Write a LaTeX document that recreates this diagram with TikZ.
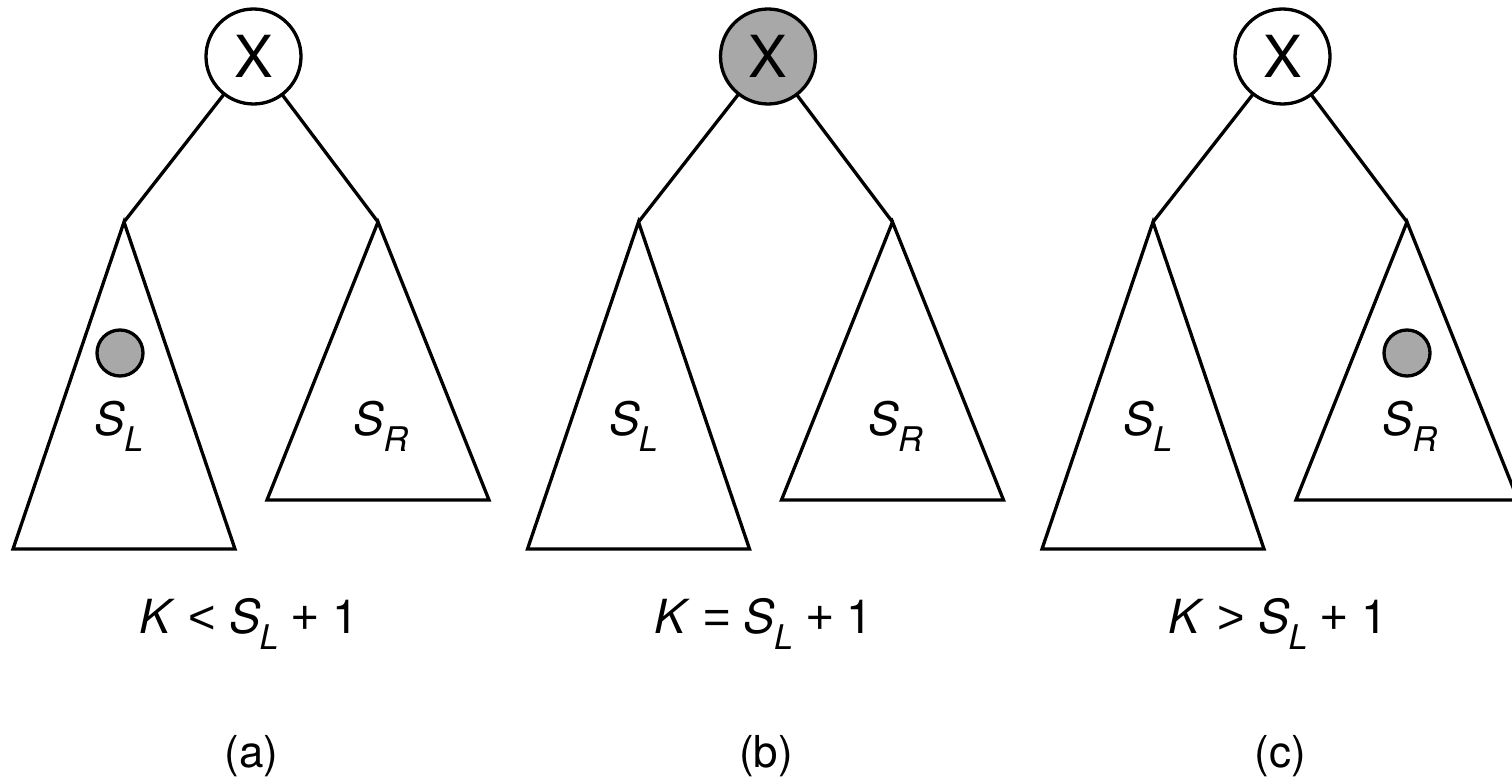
\documentclass[tikz,border=0pt]{standalone}
\usepackage{fontspec}
\setmainfont{TeX Gyre Heros}
\newfontfamily\symfont{Liberation Sans}
\definecolor{dotgray}{RGB}{168,168,168}
\newcommand{\SubLbl}[2]{\textit{#1}\kern-1pt\raisebox{-16pt}{\fontsize{34}{36}\selectfont\textit{#2}}}
\tikzset{
  edge/.style={line width=3.3pt, line cap=round},
  subtree/.style={line width=3.3pt, line join=miter},
  rootnode/.style={circle, draw, line width=3.3pt, minimum size=95pt, inner sep=0pt,
    font=\fontsize{58}{60}\selectfont},
  keydot/.style={circle, draw, line width=3.3pt, fill=dotgray, minimum size=46pt, inner sep=0pt},
  treelbl/.style={font=\fontsize{46}{50}\selectfont, inner sep=0pt, anchor=base},
  condlbl/.style={font=\fontsize{47}{50}\selectfont, inner sep=0pt, anchor=base},
  caplbl/.style={font=\fontsize{44}{48}\selectfont, inner sep=0pt, anchor=base},
}
\begin{document}
\begin{tikzpicture}[x=1pt,y=-1pt]
\useasboundingbox (0,0) rectangle (1512,781);
\foreach \i/\dx/\rf/\rel/\cap in {a/0/white/{<}/(a), b/514.5/dotgray/{=}/(b), c/1029/white/{>}/(c)} {
  \begin{scope}[xshift=\dx pt]
    \node[rootnode, fill=\rf] (root\i) at (253.5,56.5) {X};
    % left subtree
    \coordinate (la\i) at (124,222);
    \coordinate (lb\i) at (13,549);
    \coordinate (lc\i) at (235,549);
    \draw[subtree] (la\i) -- (lb\i) -- (lc\i) -- cycle;
    % right subtree
    \coordinate (ra\i) at (378,222);
    \coordinate (rb\i) at (267,500);
    \coordinate (rc\i) at (489,500);
    \draw[subtree] (ra\i) -- (rb\i) -- (rc\i) -- cycle;
    \draw[edge] (root\i) -- (la\i);
    \draw[edge] (root\i) -- (ra\i);
    \node[treelbl] (sl\i) at (119,435) {\SubLbl{S}{L}};
    \node[treelbl] (sr\i) at (381,435) {\SubLbl{S}{R}};
    \node[condlbl] (cond\i) at (249,633) {\textit{K} {\symfont\rel} \SubLbl{S}{L} {\symfont +} 1};
    \node[caplbl] (cap\i) at (251.5,767) {\cap};
  \end{scope}
}
\node[keydot] (dota) at (120,353) {};
\node[keydot] (dotc) at (1407,353) {};
\end{tikzpicture}
\end{document}
